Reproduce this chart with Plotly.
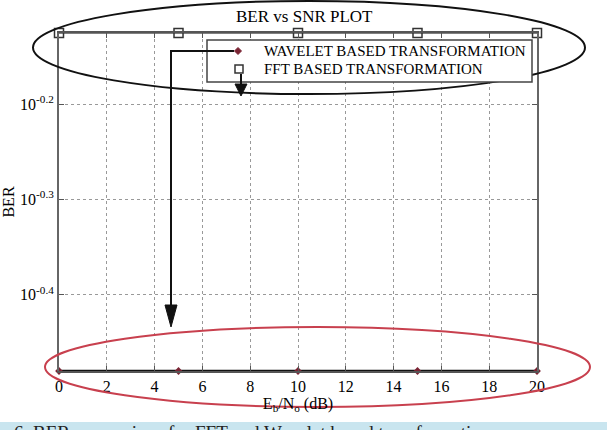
import math
import plotly.graph_objects as go

# ---- data ----
snr_db = [0, 5, 10, 15, 20]
ber_wavelet = [0.331, 0.331, 0.331, 0.331, 0.331]
ber_fft = [0.75, 0.75, 0.75, 0.75, 0.75]
series_names = ["WAVELET BASED TRANSFORMATION", "FFT BASED TRANSFORMATION"]
x_ticks = [0, 2, 4, 6, 8, 10, 12, 14, 16, 18, 20]
y_tick_exps = [-0.4, -0.3, -0.2]

W, H = 607, 430
L, R, T, B = 59, 537, 33, 371  # plot area in pixels


def px(x):
    return (x - L) / (R - L)


def py(y):
    return (B - y) / (B - T)


FONT = "Liberation Serif"
TXT = "#000000"
WAV_COL = "#7a2333"
FFT_COL = "#333333"

fig = go.Figure()
fig.add_trace(go.Scatter(
    x=snr_db, y=ber_wavelet, mode="lines+markers", name=series_names[0],
    line=dict(color="#111111", width=2.5),
    marker=dict(symbol="diamond", size=6, color=WAV_COL),
    cliponaxis=False, showlegend=False,
))
fig.add_trace(go.Scatter(
    x=snr_db, y=ber_fft, mode="lines+markers", name=series_names[1],
    line=dict(color="#555555", width=1.5),
    marker=dict(symbol="square-open", size=9, color=FFT_COL,
                line=dict(width=1.5, color=FFT_COL)),
    cliponaxis=False, showlegend=False,
))

ymin = math.log10(min(ber_wavelet))
ymax = math.log10(max(ber_fft))

fig.update_xaxes(
    range=[min(x_ticks), max(x_ticks)], tickvals=x_ticks,
    ticktext=[str(v) for v in x_ticks],
    showgrid=True, gridcolor="#999999", griddash="dot", gridwidth=1,
    showline=True, linecolor="#555555", linewidth=1.5, mirror="ticks",
    ticks="inside", ticklen=5, tickcolor="#555555",
    zeroline=False, automargin=False,
    tickfont=dict(family=FONT, size=16, color=TXT),
    title=dict(text="E<sub>b</sub>/N<sub>o</sub> (dB)", standoff=2,
               font=dict(family=FONT, size=16, color=TXT)),
)
fig.update_yaxes(
    type="log", range=[ymin, ymax],
    tickvals=[10 ** e for e in y_tick_exps],
    ticktext=["10<sup>%g</sup>" % e for e in y_tick_exps],
    showgrid=True, gridcolor="#999999", griddash="dot", gridwidth=1,
    showline=True, linecolor="#666666", linewidth=2, mirror="ticks",
    ticks="inside", ticklen=5, tickcolor="#555555",
    zeroline=False, automargin=False,
    tickfont=dict(family=FONT, size=16, color=TXT),
    title=dict(text="BER", standoff=4,
               font=dict(family=FONT, size=16, color=TXT)),
)

shapes = []
# black ellipse around top
shapes.append(dict(type="circle", xref="paper", yref="paper",
                   x0=px(33), x1=px(585), y0=py(94), y1=py(1),
                   line=dict(color="#111111", width=2)))
# red ellipse around bottom
shapes.append(dict(type="circle", xref="paper", yref="paper",
                   x0=px(45), x1=px(590), y0=py(407), y1=py(327),
                   line=dict(color="#c8404e", width=2)))
# legend box
shapes.append(dict(type="rect", xref="paper", yref="paper",
                   x0=px(207), x1=px(532), y0=py(82), y1=py(40),
                   fillcolor="white", line=dict(color="#444444", width=1.5)))
# legend symbols
shapes.append(dict(type="path", xref="paper", yref="paper",
                   path="M %f,%f L %f,%f L %f,%f L %f,%f Z" % (
                       px(238), py(47.5), px(241.5), py(51), px(238), py(54.5), px(234.5), py(51)),
                   fillcolor=WAV_COL, line=dict(color=WAV_COL, width=1)))
shapes.append(dict(type="rect", xref="paper", yref="paper",
                   x0=px(235), x1=px(243), y0=py(73), y1=py(65),
                   line=dict(color=FFT_COL, width=1.5)))
# arrow 1: from wavelet legend marker left then down
shapes.append(dict(type="path", xref="paper", yref="paper",
                   path="M %f,%f L %f,%f L %f,%f" % (px(234), py(51), px(171), py(51), px(171), py(308)),
                   line=dict(color="#111111", width=2)))
shapes.append(dict(type="path", xref="paper", yref="paper",
                   path="M %f,%f L %f,%f L %f,%f Z" % (px(165), py(305), px(177), py(305), px(171), py(327)),
                   fillcolor="#111111", line=dict(color="#111111", width=1)))
# arrow 2: from FFT legend marker down
shapes.append(dict(type="path", xref="paper", yref="paper",
                   path="M %f,%f L %f,%f" % (px(241), py(74), px(241), py(86)),
                   line=dict(color="#111111", width=2)))
shapes.append(dict(type="path", xref="paper", yref="paper",
                   path="M %f,%f L %f,%f L %f,%f Z" % (px(235), py(84), px(247), py(84), px(241), py(96)),
                   fillcolor="#111111", line=dict(color="#111111", width=1)))
# caption band
shapes.append(dict(type="rect", xref="paper", yref="paper",
                   x0=px(0), x1=px(W), y0=py(440), y1=py(422),
                   fillcolor="#c9e5ef", line=dict(width=0), layer="below"))

annotations = [
    dict(text="BER vs SNR PLOT", xref="paper", yref="paper",
         x=px(304), y=py(17), xanchor="center", yanchor="middle",
         showarrow=False, font=dict(family=FONT, size=17, color=TXT)),
    dict(text=series_names[0], xref="paper", yref="paper",
         x=px(262), y=py(51), xanchor="left", yanchor="middle",
         showarrow=False, font=dict(family=FONT, size=15, color=TXT)),
    dict(text=series_names[1], xref="paper", yref="paper",
         x=px(262), y=py(69), xanchor="left", yanchor="middle",
         showarrow=False, font=dict(family=FONT, size=15, color=TXT)),
    dict(text="6. BER comparison for FFT and Wavelet based transformation.",
         xref="paper", yref="paper", x=px(12), y=py(420),
         xanchor="left", yanchor="top", showarrow=False,
         font=dict(family=FONT, size=19, color="#222222")),
]

fig.update_layout(
    width=W, height=H,
    margin=dict(l=L, r=W - R, t=T, b=H - B),
    paper_bgcolor="white", plot_bgcolor="white",
    showlegend=False,
    shapes=shapes, annotations=annotations,
)

fig.write_html("out.html")
